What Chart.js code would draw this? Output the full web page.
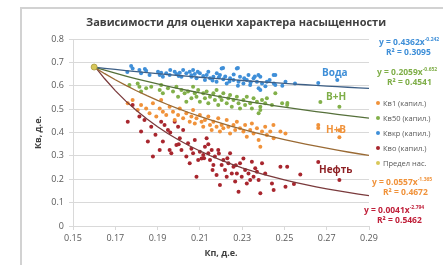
<!DOCTYPE html>
<html>
<head>
<meta charset="utf-8">
<script src="https://cdn.jsdelivr.net/npm/chart.js@4"></script>
<style>
body { margin: 0; background: #fff; font-family: 'Open Sans', sans-serif; }
#wrap { position: relative; width: 443px; height: 265px; overflow: hidden; }
#frame { position: absolute; left: 20px; top: 7px; width: 440px; height: 280px;
  border-left: 2px solid #d2d2d2; border-top: 2px solid #d2d2d2; }
canvas { position: absolute; left: 0; top: 0; }
.t { position: absolute; white-space: nowrap; line-height: 1; }
.title { left: 86px; top: 16px; font-size: 11px; font-weight: bold; color: #404040; }
.eq { font-size: 8.5px; font-weight: bold; }
.eq sup { font-size: 5px; vertical-align: 4px; }
.lg { font-size: 7.5px; color: #595959; }
.lg i { display: inline-block; width: 4px; height: 4px; border-radius: 50%; margin-right: 3px; vertical-align: 1px; }
.lab { font-size: 10px; font-weight: bold; }
</style>
</head>
<body>
<div id="wrap">
  <div id="frame"></div>
  <canvas id="c" width="443" height="265"></canvas>
  <div class="t title">Зависимости для оценки характера насыщенности</div>

  <div class="t eq" style="left:379px;top:37px;color:#3f8fd8">y = 0.4362x<sup>-0.242</sup></div>
  <div class="t eq" style="left:386px;top:48px;color:#3f8fd8">R² = 0.3095</div>
  <div class="t eq" style="left:377px;top:67px;color:#7fae48">y = 0.2059x<sup>-0.652</sup></div>
  <div class="t eq" style="left:387px;top:78px;color:#7fae48">R² = 0.4541</div>

  <div class="t lg" style="left:376px;top:100px"><i style="background:#f0923a"></i>Кв1 (капил.)</div>
  <div class="t lg" style="left:376px;top:115px"><i style="background:#82b04a"></i>Кв50 (капил.)</div>
  <div class="t lg" style="left:376px;top:130px"><i style="background:#3f8fd8"></i>Квкр (капил.)</div>
  <div class="t lg" style="left:376px;top:145px"><i style="background:#a8262e"></i>Кво (капил.)</div>
  <div class="t lg" style="left:376px;top:160px"><i style="background:#d8c85a"></i>Предел нас.</div>

  <div class="t eq" style="left:372px;top:177px;color:#f0923a">y = 0.0557x<sup>-1.365</sup></div>
  <div class="t eq" style="left:383px;top:188px;color:#f0923a">R² = 0.4672</div>
  <div class="t eq" style="left:364px;top:205px;color:#c0203a">y = 0.0041x<sup>-2.794</sup></div>
  <div class="t eq" style="left:377px;top:216px;color:#c0203a">R² = 0.5462</div>

  <div class="t lab" style="left:322px;top:67px;color:#3f8fd8">Вода</div>
  <div class="t lab" style="left:326px;top:91px;color:#7fae48">В+Н</div>
  <div class="t lab" style="left:326px;top:124px;color:#f0923a">Н+В</div>
  <div class="t lab" style="left:319px;top:164px;color:#8e2024">Нефть</div>
</div>
<script>
// Квкр (капил.) — верхнее облако, «Вода»
const kvkrPts = [
  [0.1757,0.659],[0.1775,0.684],[0.1782,0.674],[0.1814,0.667],[0.1822,0.653],[0.184,0.672],
  [0.1846,0.664],[0.1862,0.646],[0.1902,0.660],[0.1910,0.646],[0.1917,0.656],[0.1925,0.639],
  [0.1941,0.653],[0.1957,0.646],[0.196,0.667],[0.1981,0.660],[0.1989,0.650],[0.200,0.642],
  [0.2005,0.656],[0.2013,0.639],[0.2021,0.667],[0.2036,0.653],[0.2052,0.660],[0.206,0.645],
  [0.2060,0.639],[0.2068,0.667],[0.2076,0.650],[0.2084,0.632],[0.209,0.660],[0.2100,0.653],
  [0.2116,0.642],[0.2124,0.625],[0.2132,0.646],[0.214,0.660],[0.2148,0.632],[0.216,0.622],
  [0.2164,0.639],[0.2179,0.617],[0.218,0.654],[0.219,0.636],[0.2195,0.646],[0.2203,0.674],
  [0.221,0.676],[0.2211,0.628],[0.222,0.640],[0.224,0.618],[0.2227,0.610],[0.2243,0.632],
  [0.226,0.648],[0.2259,0.625],[0.2275,0.674],[0.228,0.676],[0.228,0.600],[0.2283,0.617],
  [0.2290,0.639],[0.2306,0.610],[0.231,0.632],[0.2322,0.625],[0.2330,0.646],[0.234,0.615],
  [0.2338,0.603],[0.2354,0.632],[0.236,0.640],[0.2370,0.617],[0.2378,0.589],[0.2377,0.646],
  [0.2386,0.639],[0.2386,0.582],[0.2394,0.610],[0.241,0.598],[0.2417,0.617],[0.243,0.625],
  [0.2449,0.646],[0.245,0.610],[0.2457,0.603],[0.2457,0.646],[0.249,0.600],[0.2505,0.617],
  [0.255,0.610],[0.266,0.612],[0.275,0.625]
];
// Кв50 (капил.) — «В+Н»
const kv50Pts = [
  [0.1767,0.603],[0.1806,0.610],[0.1814,0.596],[0.1822,0.575],[0.1846,0.589],[0.1870,0.596],
  [0.1910,0.582],[0.1917,0.603],[0.1925,0.568],[0.1949,0.589],[0.1973,0.575],[0.1989,0.596],
  [0.1997,0.553],[0.2013,0.582],[0.2028,0.568],[0.2036,0.532],[0.2044,0.575],[0.2060,0.546],
  [0.2068,0.596],[0.2076,0.568],[0.2084,0.553],[0.2092,0.582],[0.2100,0.532],[0.2116,0.568],
  [0.2124,0.546],[0.2132,0.575],[0.2140,0.525],[0.2148,0.553],[0.2164,0.568],[0.2171,0.539],
  [0.2179,0.582],[0.2187,0.518],[0.2195,0.553],[0.2203,0.539],[0.2211,0.568],[0.2227,0.525],
  [0.2235,0.546],[0.2243,0.560],[0.2251,0.510],[0.2259,0.539],[0.2275,0.553],[0.2283,0.525],
  [0.2290,0.503],[0.2306,0.539],[0.2314,0.518],[0.2322,0.553],[0.2338,0.525],[0.2346,0.503],
  [0.2354,0.546],[0.2370,0.532],[0.2378,0.482],[0.2386,0.510],[0.2386,0.496],[0.2394,0.539],
  [0.2409,0.525],[0.2417,0.546],[0.2441,0.518],[0.2457,0.568],[0.2489,0.525],[0.2513,0.518],
  [0.2514,0.526],[0.267,0.530],[0.276,0.510]
];
// Кв1 (капил.) — «Н+В»
const kv1Pts = [
  [0.1759,0.525],[0.1782,0.539],[0.1806,0.496],[0.1822,0.518],[0.1846,0.503],[0.1862,0.482],
  [0.1878,0.525],[0.1894,0.468],[0.1910,0.503],[0.1917,0.539],[0.1925,0.489],[0.1941,0.475],
  [0.1957,0.510],[0.1973,0.489],[0.1981,0.453],[0.1997,0.475],[0.2005,0.503],[0.2021,0.461],
  [0.2036,0.482],[0.2052,0.446],[0.2060,0.468],[0.2068,0.496],[0.2076,0.439],[0.2084,0.461],
  [0.2100,0.475],[0.2108,0.446],[0.2116,0.425],[0.2124,0.453],[0.2140,0.468],[0.2148,0.432],
  [0.2156,0.411],[0.2164,0.446],[0.2179,0.425],[0.2187,0.461],[0.2195,0.404],[0.2203,0.432],
  [0.2211,0.418],[0.2227,0.453],[0.2235,0.425],[0.2243,0.396],[0.2259,0.432],[0.2267,0.411],
  [0.2275,0.446],[0.2290,0.418],[0.2306,0.404],[0.2314,0.432],[0.2322,0.382],[0.2338,0.411],
  [0.2346,0.439],[0.2354,0.396],[0.2370,0.418],[0.2378,0.368],[0.2386,0.339],[0.2394,0.404],
  [0.2409,0.425],[0.2417,0.389],[0.2433,0.404],[0.2448,0.432],[0.2449,0.375],[0.2481,0.404],
  [0.2505,0.396],[0.266,0.432],[0.266,0.419],[0.276,0.410],[0.276,0.380]
];
// Кво (капил.) — «Нефть»
const kvoPts = [
  [0.1759,0.446],[0.1782,0.518],[0.1814,0.468],[0.1822,0.404],[0.1838,0.453],[0.1854,0.361],
  [0.1870,0.425],[0.1878,0.297],[0.189,0.390],[0.1910,0.325],[0.1917,0.446],[0.1925,0.361],
  [0.1933,0.432],[0.1949,0.411],[0.1957,0.325],[0.196,0.400],[0.1965,0.311],[0.1981,0.446],
  [0.1989,0.347],[0.1997,0.425],[0.200,0.350],[0.2005,0.375],[0.2013,0.325],[0.2021,0.411],
  [0.2036,0.297],[0.2044,0.354],[0.2052,0.268],[0.206,0.330],[0.2068,0.311],[0.2076,0.368],
  [0.2084,0.211],[0.2092,0.282],[0.2100,0.318],[0.2108,0.289],[0.2116,0.304],[0.212,0.290],
  [0.2124,0.339],[0.2132,0.375],[0.214,0.350],[0.2140,0.311],[0.2148,0.282],[0.2156,0.325],
  [0.216,0.240],[0.2164,0.261],[0.2171,0.297],[0.2179,0.218],[0.2187,0.325],[0.219,0.310],
  [0.2195,0.175],[0.2203,0.261],[0.2211,0.282],[0.2219,0.240],[0.223,0.290],[0.2227,0.211],
  [0.2235,0.268],[0.2243,0.311],[0.2251,0.225],[0.2259,0.254],[0.2267,0.190],[0.227,0.260],
  [0.2275,0.225],[0.2283,0.147],[0.2290,0.268],[0.2298,0.211],[0.2306,0.289],[0.2314,0.240],
  [0.2322,0.182],[0.2330,0.225],[0.2338,0.197],[0.2346,0.275],[0.2354,0.211],[0.2362,0.247],
  [0.2370,0.232],[0.2378,0.197],[0.2386,0.140],[0.2394,0.268],[0.2409,0.225],[0.2441,0.182],
  [0.2449,0.154],[0.2481,0.254],[0.2505,0.168],[0.2513,0.254],[0.2545,0.180],[0.2575,0.220],
  [0.266,0.274],[0.276,0.197]
];
// Предел нас.
const predelPts = [[0.16, 0.68]];

// линии тренда y = a·x^b (коэффициенты с подписей на графике)
const trendNames = ['Вода', 'В+Н', 'Н+В', 'Нефть'];
const trendA = [0.4362, 0.2059, 0.0557, 0.0041];
const trendB = [-0.242, -0.652, -1.365, -2.794];
const trendX = [0.16, 0.165, 0.17, 0.175, 0.18, 0.185, 0.19, 0.195, 0.2, 0.205, 0.21, 0.215, 0.22,
  0.225, 0.23, 0.235, 0.24, 0.245, 0.25, 0.255, 0.26, 0.265, 0.27, 0.275, 0.28, 0.285, 0.29];

const xTicks = [0.15, 0.17, 0.19, 0.21, 0.23, 0.25, 0.27, 0.29];

const trendColors = ['#3d5f86', '#55703a', '#9a6a34', '#7a3a3c'];

function toXY(arr) {
    return arr.map(p => ({ x: p[0], y: p[1] }));
}

const datasets = trendNames.map((name, i) => ({
    type: 'line',
    label: name,
    data: trendX.map(x => ({ x: x, y: trendA[i] * Math.pow(x, trendB[i]) })),
    borderColor: trendColors[i],
    borderWidth: 1.3,
    pointRadius: 0,
    fill: false,
    order: 0
}));

const pointSets = [
    ['Кв1 (капил.)', kv1Pts, '#f0923a'],
    ['Кв50 (капил.)', kv50Pts, '#82b04a'],
    ['Квкр (капил.)', kvkrPts, '#3f8fd8'],
    ['Кво (капил.)', kvoPts, '#a8262e']
];
pointSets.forEach(s => {
    datasets.push({
        type: 'scatter',
        label: s[0],
        data: toXY(s[1]),
        backgroundColor: s[2],
        borderWidth: 0,
        pointRadius: 2,
        order: 2
    });
});
datasets.push({
    type: 'scatter',
    label: 'Предел нас.',
    data: toXY(predelPts),
    backgroundColor: '#d8c85a',
    borderColor: '#a89a40',
    borderWidth: 0.8,
    pointRadius: 3,
    order: -1
});

const tickFont = { family: "'Open Sans', sans-serif", size: 9 };
const axisTitleFont = { family: "'Open Sans', sans-serif", size: 9, weight: 'bold' };

new Chart(document.getElementById('c'), {
    type: 'scatter',
    data: { datasets },
    options: {
        responsive: false,
        animation: false,
        layout: { padding: { left: 21, right: 74, top: 39, bottom: 0 } },
        plugins: { legend: { display: false }, tooltip: { enabled: false } },
        scales: {
            x: {
                type: 'linear',
                min: 0.15,
                max: 0.29,
                afterFit: s => { s.height = 39; },
                afterBuildTicks: s => { s.ticks = xTicks.map(v => ({ value: v })); },
                ticks: { color: '#595959', font: tickFont, padding: 3, maxRotation: 0,
                    callback: v => v.toFixed(2) },
                grid: { drawOnChartArea: false, color: '#d9d9d9', tickLength: 4 },
                border: { color: '#d9d9d9' },
                title: { display: true, text: 'Кп, д.е.', color: '#404040', font: axisTitleFont,
                    padding: { top: 0, bottom: 6 } }
            },
            y: {
                min: 0,
                max: 0.8,
                afterFit: s => { s.width = 52; },
                ticks: { stepSize: 0.1, color: '#595959', font: tickFont, padding: 5,
                    callback: v => v === 0 ? '0' : v.toFixed(1) },
                grid: { color: '#d9d9d9', tickLength: 4 },
                border: { color: '#d9d9d9' },
                title: { display: true, text: 'Кв, д.е.', color: '#404040', font: axisTitleFont,
                    padding: { top: 12, bottom: 0 } }
            }
        }
    }
});
</script>
</body>
</html>
